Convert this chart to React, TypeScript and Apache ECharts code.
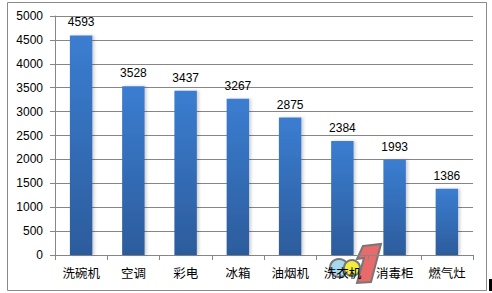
import React, { useEffect, useRef } from "react";
import * as echarts from "echarts";

const categories = ["洗碗机", "空调", "彩电", "冰箱", "油烟机", "洗衣机", "消毒柜", "燃气灶"];
const values = [4593, 3528, 3437, 3267, 2875, 2384, 1993, 1386];
const yTicks = { min: 0, max: 5000, interval: 500 };

export default function App() {
  const ref = useRef<HTMLDivElement>(null);
  useEffect(() => {
    document.body.style.margin = "0";
    const chart = echarts.init(ref.current!, null, { renderer: "svg" });
    const font = "Arial, 'Liberation Sans', 'Noto Sans CJK SC', sans-serif";
    chart.setOption({
      animation: false,
      backgroundColor: "#ffffff",
      grid: { left: 55, right: 19, top: 16, bottom: 38, containLabel: false },
      xAxis: {
        type: "category",
        data: categories,
        axisLine: { lineStyle: { color: "#868686", width: 1 } },
        axisTick: { show: true, length: 5, alignWithLabel: false, lineStyle: { color: "#868686" } },
        axisLabel: { color: "#000", fontSize: 12.5, margin: 11, fontFamily: "'Noto Sans CJK SC', sans-serif", interval: 0 },
        splitLine: { show: false },
      },
      yAxis: {
        type: "value",
        min: yTicks.min,
        max: yTicks.max,
        interval: yTicks.interval,
        axisLine: { show: true, lineStyle: { color: "#868686", width: 1 } },
        axisTick: { show: true, length: 5, lineStyle: { color: "#868686" } },
        axisLabel: { color: "#000", fontSize: 12, margin: 12, fontFamily: font, formatter: (v: number) => String(v) },
        splitLine: { show: true, lineStyle: { color: "#868686", width: 1 } },
      },
      series: [
        {
          type: "bar",
          data: values,
          barWidth: "43%",
          itemStyle: {
            color: new echarts.graphic.LinearGradient(0, 0, 0, 1, [
              { offset: 0, color: "#3b7dd1" },
              { offset: 1, color: "#2c5c9c" },
            ]),
            shadowColor: "rgba(0,0,0,0.18)",
            shadowBlur: 3,
            shadowOffsetX: 2,
            shadowOffsetY: 0,
          },
          label: {
            show: true,
            position: "top",
            distance: 7,
            color: "#000",
            fontSize: 12,
            fontFamily: font,
          },
        },
      ],
      graphic: [
        {
          type: "rect",
          shape: { x: 7.5, y: 2.5, width: 479, height: 288 },
          style: { fill: "none", stroke: "#8a8a8a", lineWidth: 1 },
          silent: true,
        },
        {
          type: "rect",
          shape: { x: 489, y: 279, width: 3, height: 12 },
          style: { fill: "#000" },
          silent: true,
        },
        {
          type: "circle",
          shape: { cx: 339, cy: 268, r: 9 },
          style: { fill: "#a8d8f0", stroke: "#777", lineWidth: 2 },
          silent: true,
        },
        {
          type: "circle",
          shape: { cx: 352, cy: 268, r: 8 },
          style: { fill: "#f2ec3a", stroke: "#777", lineWidth: 2 },
          silent: true,
        },
        {
          type: "polygon",
          shape: { points: [[363, 246], [381, 244], [371, 282], [357, 283], [364, 258], [357, 259]] },
          style: { fill: "#e86a6a", stroke: "#777", lineWidth: 2 },
          silent: true,
        },
      ],
    });
    return () => chart.dispose();
  }, []);
  return <div ref={ref} style={{ width: 492, height: 293 }} />;
}
